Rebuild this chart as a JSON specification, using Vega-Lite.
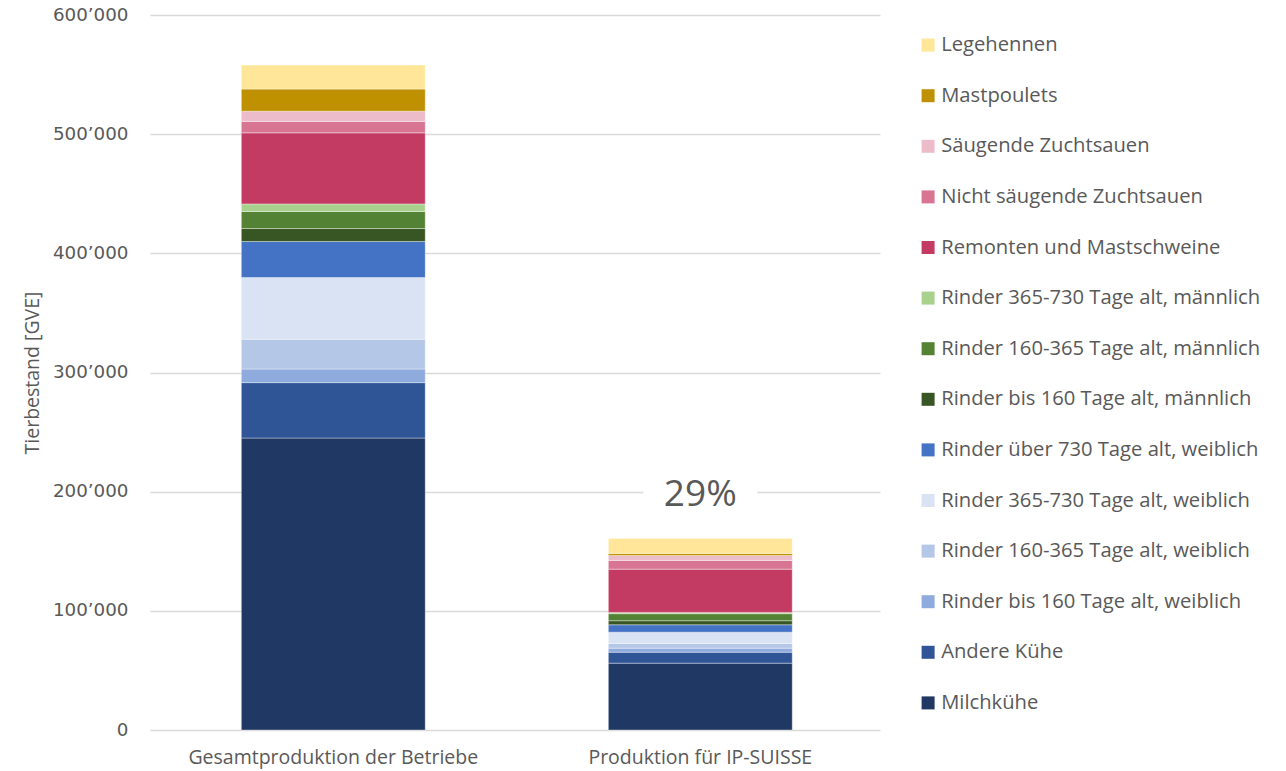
{
  "$schema": "https://vega.github.io/schema/vega-lite/v6.json",
  "width": 730,
  "height": 715,
  "autosize": {"type": "none"},
  "padding": {"left": 150, "top": 15, "right": 406, "bottom": 41},
  "background": "white",
  "config": {
    "locale": {"number": {"decimal": ".", "thousands": "’", "grouping": [3], "currency": ["", ""]}},
    "font": "Open Sans",
    "view": {"stroke": null}
  },
  "datasets": {
    "stock": [
      {"cat": "Gesamtproduktion der Betriebe", "kat": "Milchkühe", "idx": 1, "gve": 245000},
      {"cat": "Gesamtproduktion der Betriebe", "kat": "Andere Kühe", "idx": 2, "gve": 46500},
      {"cat": "Gesamtproduktion der Betriebe", "kat": "Rinder bis 160 Tage alt, weiblich", "idx": 3, "gve": 11400},
      {"cat": "Gesamtproduktion der Betriebe", "kat": "Rinder 160-365 Tage alt, weiblich", "idx": 4, "gve": 25000},
      {"cat": "Gesamtproduktion der Betriebe", "kat": "Rinder 365-730 Tage alt, weiblich", "idx": 5, "gve": 51800},
      {"cat": "Gesamtproduktion der Betriebe", "kat": "Rinder über 730 Tage alt, weiblich", "idx": 6, "gve": 30200},
      {"cat": "Gesamtproduktion der Betriebe", "kat": "Rinder bis 160 Tage alt, männlich", "idx": 7, "gve": 10900},
      {"cat": "Gesamtproduktion der Betriebe", "kat": "Rinder 160-365 Tage alt, männlich", "idx": 8, "gve": 14300},
      {"cat": "Gesamtproduktion der Betriebe", "kat": "Rinder 365-730 Tage alt, männlich", "idx": 9, "gve": 6400},
      {"cat": "Gesamtproduktion der Betriebe", "kat": "Remonten und Mastschweine", "idx": 10, "gve": 59600},
      {"cat": "Gesamtproduktion der Betriebe", "kat": "Nicht säugende Zuchtsauen", "idx": 11, "gve": 9600},
      {"cat": "Gesamtproduktion der Betriebe", "kat": "Säugende Zuchtsauen", "idx": 12, "gve": 8600},
      {"cat": "Gesamtproduktion der Betriebe", "kat": "Mastpoulets", "idx": 13, "gve": 18500},
      {"cat": "Gesamtproduktion der Betriebe", "kat": "Legehennen", "idx": 14, "gve": 20200},
      {"cat": "Produktion für IP-SUISSE", "kat": "Milchkühe", "idx": 1, "gve": 56100},
      {"cat": "Produktion für IP-SUISSE", "kat": "Andere Kühe", "idx": 2, "gve": 9200},
      {"cat": "Produktion für IP-SUISSE", "kat": "Rinder bis 160 Tage alt, weiblich", "idx": 3, "gve": 3400},
      {"cat": "Produktion für IP-SUISSE", "kat": "Rinder 160-365 Tage alt, weiblich", "idx": 4, "gve": 3900},
      {"cat": "Produktion für IP-SUISSE", "kat": "Rinder 365-730 Tage alt, weiblich", "idx": 5, "gve": 9500},
      {"cat": "Produktion für IP-SUISSE", "kat": "Rinder über 730 Tage alt, weiblich", "idx": 6, "gve": 6200},
      {"cat": "Produktion für IP-SUISSE", "kat": "Rinder bis 160 Tage alt, männlich", "idx": 7, "gve": 3400},
      {"cat": "Produktion für IP-SUISSE", "kat": "Rinder 160-365 Tage alt, männlich", "idx": 8, "gve": 5900},
      {"cat": "Produktion für IP-SUISSE", "kat": "Rinder 365-730 Tage alt, männlich", "idx": 9, "gve": 1100},
      {"cat": "Produktion für IP-SUISSE", "kat": "Remonten und Mastschweine", "idx": 10, "gve": 36300},
      {"cat": "Produktion für IP-SUISSE", "kat": "Nicht säugende Zuchtsauen", "idx": 11, "gve": 7300},
      {"cat": "Produktion für IP-SUISSE", "kat": "Säugende Zuchtsauen", "idx": 12, "gve": 4200},
      {"cat": "Produktion für IP-SUISSE", "kat": "Mastpoulets", "idx": 13, "gve": 1700},
      {"cat": "Produktion für IP-SUISSE", "kat": "Legehennen", "idx": 14, "gve": 12600}
    ],
    "note": [
      {"cat": "Produktion für IP-SUISSE", "lo": 190000, "hi": 206000, "y": 197000, "label": "29%"}
    ]
  },
  "layer": [
    {
      "data": {"name": "stock"},
      "mark": {"type": "bar", "stroke": "#ffffff", "strokeWidth": 0.6, "strokeOpacity": 0.6},
      "encoding": {
        "x": {
          "field": "cat", "type": "nominal", "sort": null,
          "scale": {"paddingInner": 0.499, "paddingOuter": 0.244, "align": 0.51},
          "axis": {"title": null, "labelAngle": 0, "ticks": false, "domain": false, "labelPadding": 18, "labelFontSize": 19.5, "labelColor": "#595959", "labelFont": "Open Sans", "labelLimit": 500}
        },
        "y": {
          "field": "gve", "type": "quantitative", "stack": "zero",
          "scale": {"domain": [0, 600000], "nice": false},
          "axis": {"title": "Tierbestand [GVE]", "values": [0, 100000, 200000, 300000, 400000, 500000, 600000], "format": ",d", "ticks": false, "domain": false, "labelPadding": 22, "labelFontSize": 18.3, "labelFont": "DejaVu Sans", "labelColor": "#595959", "gridColor": "#D9D9D9", "gridWidth": 1.3, "titleFontSize": 19.5, "titleFontWeight": "normal", "titleColor": "#595959", "titlePadding": 10}
        },
        "order": {"field": "idx", "type": "quantitative", "sort": "ascending"},
        "color": {
          "field": "kat", "type": "nominal",
          "scale": {
            "domain": ["Legehennen", "Mastpoulets", "Säugende Zuchtsauen", "Nicht säugende Zuchtsauen", "Remonten und Mastschweine", "Rinder 365-730 Tage alt, männlich", "Rinder 160-365 Tage alt, männlich", "Rinder bis 160 Tage alt, männlich", "Rinder über 730 Tage alt, weiblich", "Rinder 365-730 Tage alt, weiblich", "Rinder 160-365 Tage alt, weiblich", "Rinder bis 160 Tage alt, weiblich", "Andere Kühe", "Milchkühe"],
            "range": ["#FFE699", "#BF9000", "#ECBCCB", "#D77592", "#C33B63", "#A9D18E", "#548235", "#375623", "#4472C4", "#DAE3F3", "#B4C7E7", "#8FAADC", "#2F5597", "#203864"]
          },
          "legend": {"title": null, "orient": "none", "legendX": 768, "legendY": 20, "symbolType": "square", "symbolSize": 169, "symbolStrokeWidth": 0, "labelFontSize": 20.2, "labelColor": "#595959", "labelOffset": 3, "rowPadding": 29.6, "labelLimit": 400}
        }
      }
    },
    {
      "data": {"name": "note"},
      "mark": {"type": "bar", "color": "#ffffff", "size": 114},
      "encoding": {
        "x": {"field": "cat", "type": "nominal", "sort": null},
        "y": {"field": "lo", "type": "quantitative"},
        "y2": {"field": "hi"}
      }
    },
    {
      "data": {"name": "note"},
      "mark": {"type": "text", "fontSize": 37, "color": "#595959", "baseline": "middle", "align": "center"},
      "encoding": {
        "x": {"field": "cat", "type": "nominal", "sort": null},
        "y": {"field": "y", "type": "quantitative"},
        "text": {"field": "label"}
      }
    }
  ]
}
